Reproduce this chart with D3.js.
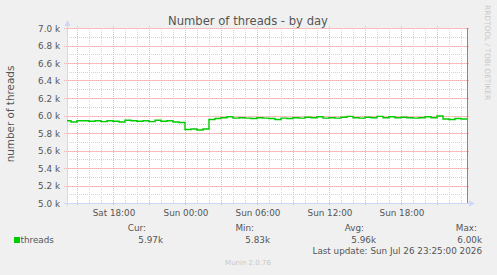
<!DOCTYPE html>
<html>
<head>
<meta charset="utf-8">
<script src="https://cdn.jsdelivr.net/npm/d3@7"></script>
<style>
  body { margin: 0; background: #f0f0f0; }
  svg text { font-family: "DejaVu Sans", sans-serif; fill: #555; }
</style>
</head>
<body>
<div id="chart"></div>
<script>
// Chart data (thousands of threads, one value every 30 minutes from Sat 14:00)
var startTime = new Date(2026, 6, 25, 14, 0);
var stepMinutes = 30;
var threadValues = [
  5.94, 5.925, 5.94, 5.94, 5.935, 5.94, 5.93, 5.94, 5.935, 5.925,
  5.945, 5.94, 5.935, 5.94, 5.93, 5.945, 5.935, 5.94, 5.925, 5.92,
  5.84, 5.845, 5.835, 5.845, 5.955, 5.965, 5.975, 5.985, 5.97, 5.975,
  5.97, 5.965, 5.975, 5.97, 5.965, 5.955, 5.97, 5.965, 5.975, 5.97,
  5.98, 5.975, 5.985, 5.97, 5.975, 5.97, 5.98, 5.99, 5.975, 5.97,
  5.98, 5.975, 5.99, 5.975, 5.985, 5.975, 5.98, 5.975, 5.97, 5.975,
  5.985, 5.975, 5.995, 5.96, 5.955, 5.965, 5.96, 5.97
];
var yTicks = [5.0, 5.2, 5.4, 5.6, 5.8, 6.0, 6.2, 6.4, 6.6, 6.8, 7.0];
var legendHeads = ["Cur:", "Min:", "Avg:", "Max:"];
var legendValues = ["5.97k", "5.83k", "5.96k", "6.00k"];

var svgWidth = 497;
var svgHeight = 275;
var plot = { left: 67, right: 467, top: 28, bottom: 203 };

var svg = d3.select("#chart")
  .append("svg")
  .attr("width", svgWidth)
  .attr("height", svgHeight);

svg.append("rect").attr("width", svgWidth).attr("height", svgHeight).attr("fill", "#f0f0f0");
svg.append("rect")
  .attr("x", plot.left).attr("y", plot.top)
  .attr("width", plot.right - plot.left).attr("height", plot.bottom - plot.top)
  .attr("fill", "#ffffff");

var data = threadValues.map(function(v, i) {
  return { t: new Date(startTime.getTime() + i * stepMinutes * 60000), v: v };
});

// Scales
var xScale = d3.scaleTime()
  .domain([new Date(2026, 6, 25, 14, 10), new Date(2026, 6, 26, 23, 30)])
  .range([plot.left, plot.right]);
var yScale = d3.scaleLinear()
  .domain([5.0, 7.0])
  .range([plot.bottom, plot.top]);

// Grid: minor
var minorX = d3.timeHour.every(1).range(xScale.domain()[0], xScale.domain()[1]);
var minorY = d3.range(50, 71).map(function(d) { return d / 10; });
var grid = svg.append("g");
grid.selectAll(".mx").data(minorX).enter().append("line")
  .attr("x1", d => Math.round(xScale(d)) + 0.5).attr("x2", d => Math.round(xScale(d)) + 0.5)
  .attr("y1", plot.top).attr("y2", plot.bottom)
  .attr("stroke", "#d4d4d4").attr("stroke-dasharray", "1,1");
grid.selectAll(".my").data(minorY).enter().append("line")
  .attr("y1", d => Math.round(yScale(d)) + 0.5).attr("y2", d => Math.round(yScale(d)) + 0.5)
  .attr("x1", plot.left).attr("x2", plot.right)
  .attr("stroke", "#d4d4d4").attr("stroke-dasharray", "1,1");

// Grid: major
var majorX = d3.timeHour.every(3).range(xScale.domain()[0], xScale.domain()[1]);
grid.selectAll(".Mx").data(majorX).enter().append("line")
  .attr("x1", d => Math.round(xScale(d)) + 0.5).attr("x2", d => Math.round(xScale(d)) + 0.5)
  .attr("y1", plot.top - 2).attr("y2", plot.bottom + 3)
  .attr("stroke", "#f0b4b4").attr("stroke-dasharray", "1,1");
grid.selectAll(".My").data(yTicks).enter().append("line")
  .attr("y1", d => Math.round(yScale(d)) + 0.5).attr("y2", d => Math.round(yScale(d)) + 0.5)
  .attr("x1", plot.left - 3).attr("x2", plot.right + 2)
  .attr("stroke", "#f0b4b4").attr("stroke-dasharray", "1,1");

// Axis lines with arrows
var axisColor = "#cfd6f8";
svg.append("line").attr("x1", plot.left + 0.5).attr("x2", plot.left + 0.5)
  .attr("y1", plot.bottom + 3).attr("y2", plot.top - 4).attr("stroke", axisColor);
svg.append("path").attr("d", `M${plot.left - 2.5},${plot.top - 2} L${plot.left + 0.5},${plot.top - 8} L${plot.left + 3.5},${plot.top - 2} Z`)
  .attr("fill", axisColor);
svg.append("line").attr("x1", plot.left - 3).attr("x2", plot.right + 4)
  .attr("y1", plot.bottom + 0.5).attr("y2", plot.bottom + 0.5).attr("stroke", axisColor);
svg.append("path").attr("d", `M${plot.right + 2},${plot.bottom - 2.5} L${plot.right + 8},${plot.bottom + 0.5} L${plot.right + 2},${plot.bottom + 3.5} Z`)
  .attr("fill", axisColor);
svg.append("line").attr("x1", plot.right + 0.5).attr("x2", plot.right + 0.5)
  .attr("y1", plot.top).attr("y2", plot.bottom).attr("stroke", "#888");

// Data line
var line = d3.line()
  .x(d => xScale(d.t))
  .y(d => yScale(d.v))
  .curve(d3.curveStepAfter);
svg.append("clipPath").attr("id", "clip").append("rect")
  .attr("x", plot.left).attr("y", plot.top)
  .attr("width", plot.right - plot.left).attr("height", plot.bottom - plot.top);
svg.append("path")
  .datum(data)
  .attr("clip-path", "url(#clip)")
  .attr("d", line)
  .attr("fill", "none")
  .attr("stroke", "#00cc00")
  .attr("stroke-width", 1.4);

// Y tick labels
svg.append("g").selectAll("text").data(yTicks).enter().append("text")
  .attr("x", 60).attr("y", d => yScale(d) + 3.5)
  .attr("text-anchor", "end").style("font-size", "8.8px")
  .text(d => d.toFixed(1) + " k");

// X tick labels
var xLabels = d3.timeHour.every(6).range(xScale.domain()[0], xScale.domain()[1]);
var fmt = d3.timeFormat("%a %H:%M");
svg.append("g").selectAll("text").data(xLabels).enter().append("text")
  .attr("x", d => xScale(d) + 1).attr("y", 216)
  .attr("text-anchor", "middle").style("font-size", "8.8px")
  .text(d => fmt(d));

// Titles
svg.append("text").attr("x", 248).attr("y", 25).attr("text-anchor", "middle")
  .style("font-size", "11.6px").text("Number of threads - by day");
svg.append("text").attr("transform", "translate(14, 114) rotate(-90)")
  .attr("text-anchor", "middle").style("font-size", "10.4px").text("number of threads");
svg.append("text").attr("transform", "translate(485, 5) rotate(90)")
  .style("font-size", "7.4px").style("fill", "#c8c8c8").text("RRDTOOL / TOBI OETIKER");

// Legend
svg.append("rect").attr("x", 14).attr("y", 237).attr("width", 6).attr("height", 6).attr("fill", "#00cc00");
svg.append("text").attr("x", 20.5).attr("y", 243).style("font-size", "8.8px").text("threads");
var headEnds = [146, 254, 364, 477];
var valueEnds = [163, 270, 376, 482];
svg.append("g").selectAll("text").data(legendHeads).enter().append("text")
  .attr("x", (d, i) => headEnds[i]).attr("y", 231)
  .attr("text-anchor", "end").style("font-size", "8.8px").text(d => d);
svg.append("g").selectAll("text").data(legendValues).enter().append("text")
  .attr("x", (d, i) => valueEnds[i]).attr("y", 243)
  .attr("text-anchor", "end").style("font-size", "8.8px").text(d => d);
svg.append("text").attr("x", 482).attr("y", 254).attr("text-anchor", "end")
  .style("font-size", "8.8px").text("Last update: Sun Jul 26 23:25:00 2026");
svg.append("text").attr("x", 248).attr("y", 265).attr("text-anchor", "middle")
  .style("font-size", "7px").style("fill", "#c8c8c8").text("Munin 2.0.76");
</script>
</body>
</html>
